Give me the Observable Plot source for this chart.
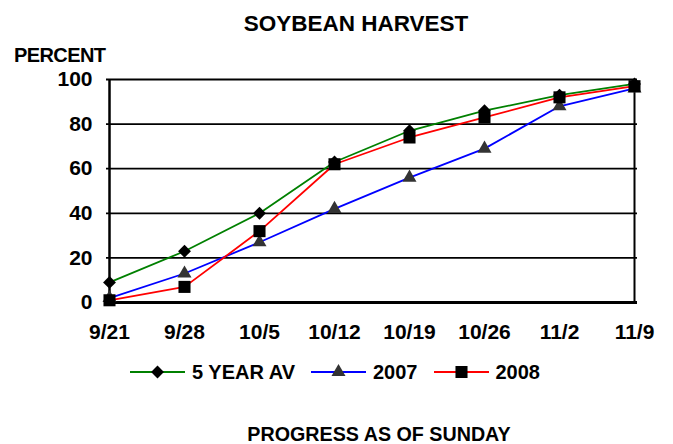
<!DOCTYPE html>
<html>
<head>
<meta charset="utf-8">
<script src="https://cdn.jsdelivr.net/npm/d3@7"></script>
<script src="https://cdn.jsdelivr.net/npm/@observablehq/plot@0.6"></script>
<style>
  html, body { margin: 0; padding: 0; background: #fff; }
  #wrap { position: relative; width: 673px; height: 444px; overflow: hidden;
          font-family: "Liberation Sans", Arial, sans-serif; font-weight: bold; color: #000; }
  #wrap svg.chart { position: absolute; left: 0; top: 0; }
  .lbl { position: absolute; white-space: nowrap; line-height: 1; }
  #title { left: 356px; top: 13px; font-size: 22.5px; transform: translateX(-50%); }
  #ylab { left: 14px; top: 45px; font-size: 20px; letter-spacing: -0.6px; }
  #caption { left: 379px; top: 425px; font-size: 19.7px; transform: translateX(-50%); }
  #legend { position: absolute; left: 130px; top: 362px; display: flex; align-items: center; font-size: 20px; line-height: 1; }
  #legend .item { display: flex; align-items: center; margin-right: 16px; }
  #legend svg { margin-right: 7px; }
</style>
</head>
<body>
<div id="wrap">
  <div id="title" class="lbl">SOYBEAN HARVEST</div>
  <div id="ylab" class="lbl">PERCENT</div>
  <div id="legend"></div>
  <div id="caption" class="lbl">PROGRESS AS OF SUNDAY</div>
</div>
<script>
const weeks = ["9/21", "9/28", "10/5", "10/12", "10/19", "10/26", "11/2", "11/9"];
const avg5 = [9, 23, 40, 63, 77, 86, 93, 98];
const y2007 = [2, 13, 27, 42, 56, 69, 88, 96];
const y2008 = [1, 7, 32, 62, 74, 83, 92, 97];
const yTicks = [0, 20, 40, 60, 80, 100];

const seriesNames = ["5 YEAR AV", "2007", "2008"];
const seriesVals = [avg5, y2007, y2008];
const seriesColors = ["#008000", "#0000ff", "#ff0000"];
const seriesSymbols = ["diamond2", "triangle", "square"];
const seriesFill = ["#000", "#333", "#000"];
const seriesR = [5.8, 5.2, 6.8];

const rows = [];
seriesNames.forEach((s, i) => seriesVals[i].forEach((v, j) => rows.push({series: s, week: weeks[j], value: v})));

const marks = [
  Plot.ruleY(yTicks.filter(d => d > 0), {stroke: "#000", strokeWidth: 1.8}),
  Plot.ruleX([weeks[weeks.length - 1]], {y1: 0, y2: 100, stroke: "#000", strokeWidth: 2}),
  Plot.ruleX([weeks[0]], {y1: 0, y2: 100, stroke: "#000", strokeWidth: 2.5}),
  Plot.ruleY([0], {stroke: "#000", strokeWidth: 3}),
  Plot.axisY({ticks: yTicks, tickSize: 0, tickPadding: 14, fontSize: 21, fontWeight: "bold"}),
  Plot.axisX({tickSize: 0, tickPadding: 22, fontSize: 21, fontWeight: "bold"})
];
seriesNames.forEach((s, i) => {
  const d = rows.filter(r => r.series === s);
  marks.push(Plot.line(d, {x: "week", y: "value", stroke: seriesColors[i], strokeWidth: 1.8}));
});
seriesNames.forEach((s, i) => {
  const d = rows.filter(r => r.series === s);
  marks.push(Plot.dot(d, {x: "week", y: "value", symbol: () => seriesSymbols[i], fill: seriesFill[i], r: seriesR[i], stroke: "none"}));
});

const chart = Plot.plot({
  width: 673,
  height: 444,
  marginLeft: 106,
  marginRight: 36,
  marginTop: 79,
  marginBottom: 142,
  x: {type: "point", domain: weeks, padding: 0, label: null},
  y: {domain: [0, 100], label: null},
  symbol: {domain: seriesSymbols, range: seriesSymbols},
  style: {fontFamily: "Liberation Sans, Arial, sans-serif", fontSize: "21px", fontWeight: "bold", color: "#000", background: "transparent"},
  marks
});
chart.classList.add("chart");
document.getElementById("wrap").insertBefore(chart, document.getElementById("title"));

// legend
const legend = d3.select("#legend");
const sym = {diamond2: d3.symbolDiamond2, triangle: d3.symbolTriangle, square: d3.symbolSquare};
seriesNames.forEach((s, i) => {
  const item = legend.append("div").attr("class", "item");
  const svg = item.append("svg").attr("width", 55).attr("height", 20);
  svg.append("line").attr("x1", 0).attr("x2", 55).attr("y1", 10).attr("y2", 10)
    .attr("stroke", seriesColors[i]).attr("stroke-width", 2);
  svg.append("path").attr("transform", "translate(27.5,10)")
    .attr("d", d3.symbol(sym[seriesSymbols[i]], Math.PI * seriesR[i] * seriesR[i])())
    .attr("fill", seriesFill[i]);
  item.append("span").text(s);
});
</script>
</body>
</html>
